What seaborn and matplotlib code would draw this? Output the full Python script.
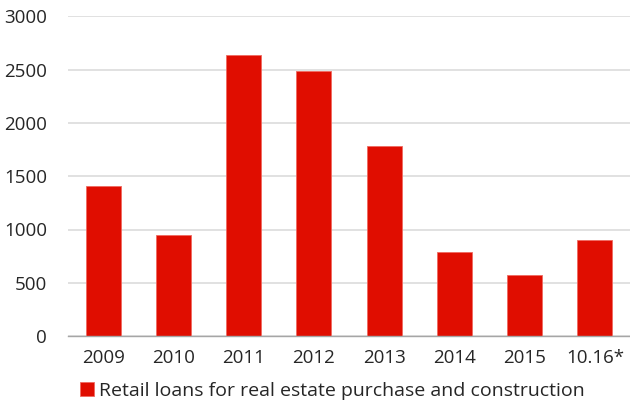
import matplotlib
matplotlib.use("Agg")
import matplotlib.pyplot as plt
import seaborn as sns
import pandas as pd

# values
periods = ["2009", "2010", "2011", "2012", "2013", "2014", "2015", "10.16*"]
loans = [1405, 945, 2640, 2490, 1780, 785, 570, 905]
series_name = "Retail loans for real estate purchase and construction"
y_ticks = [0, 500, 1000, 1500, 2000, 2500, 3000]

BAR_RED = "#e00d00"


def plot_loans():
    df = pd.DataFrame({"period": periods, "value": loans})

    sns.set_style("white")
    plt.rcParams["font.family"] = ["Open Sans", "DejaVu Sans"]

    fig = plt.figure(figsize=(6.3, 4.05), dpi=100)
    ax = fig.add_axes([0.108, 0.170, 0.892, 0.790])

    sns.barplot(data=df, x="period", y="value", color=BAR_RED, width=0.5,
                saturation=1, label=series_name, ax=ax,
                edgecolor="#f06a60", linewidth=0.6)

    ax.set_xlim(-0.5, len(periods) - 0.5)
    ax.set_ylim(0, 3000)
    ax.set_yticks(y_ticks)
    ax.yaxis.grid(True, color="#dcdcdc", linewidth=1.2)
    ax.set_axisbelow(True)

    for side in ["left", "right", "top"]:
        ax.spines[side].set_visible(False)
    ax.spines["bottom"].set_color("#a6a6a6")
    ax.spines["bottom"].set_linewidth(1.0)

    # ticks at category boundaries, labels centred
    ax.set_xticks([i - 0.5 for i in range(len(periods) + 1)], minor=True)
    ax.tick_params(axis="x", which="minor", length=5, color="#a6a6a6", width=1.0)
    ax.tick_params(axis="x", which="major", length=0, pad=9, labelsize=13.5)
    ax.tick_params(axis="y", length=0, pad=15, labelsize=13.5)
    ax.set_xlabel("")
    ax.set_ylabel("")

    ax.legend(loc="center left", bbox_to_anchor=(0.127, 0.035),
              bbox_transform=fig.transFigure, frameon=False,
              handlelength=0.7, handleheight=0.7, handletextpad=0.3,
              fontsize=14, borderaxespad=0, borderpad=0)

    fig.savefig("out.png", dpi=100)


if __name__ == "__main__":
    plot_loans()
